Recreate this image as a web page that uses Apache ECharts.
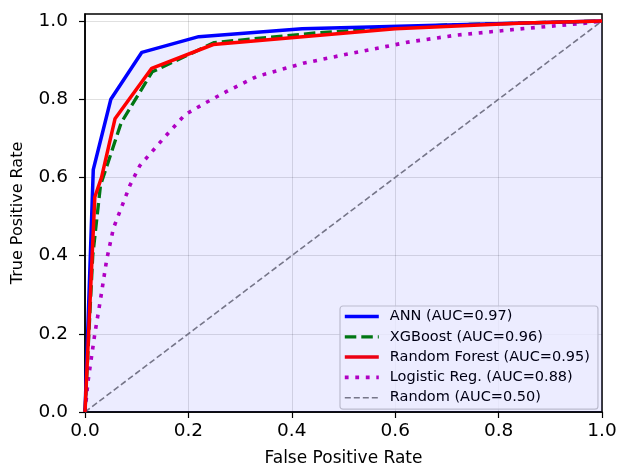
<!DOCTYPE html>
<html>
<head>
<meta charset="utf-8">
<script src="https://cdn.jsdelivr.net/npm/echarts@6/dist/echarts.min.js"></script>
<style>
  html, body { margin: 0; padding: 0; background: #fff; }
  #chart { width: 622px; height: 468px; }
</style>
</head>
<body>
<div id="chart"></div>
<script>
  // ROC points [fpr, tpr]
  var annPts = [[0, 0], [0.016, 0.62], [0.05, 0.80], [0.11, 0.92], [0.22, 0.96], [0.42, 0.98], [0.7, 0.99], [1, 1]];
  var xgbPts = [[0, 0], [0.015, 0.40], [0.03, 0.58], [0.07, 0.74], [0.13, 0.87], [0.25, 0.945], [0.45, 0.97], [0.7, 0.99], [1, 1]];
  var rfPts = [[0, 0], [0.019, 0.55], [0.032, 0.60], [0.058, 0.75], [0.129, 0.879], [0.248, 0.94], [0.6, 0.98], [0.85, 0.995], [1, 1]];
  var lrPts = [[0, 0], [0.006, 0.08], [0.019, 0.20], [0.029, 0.28], [0.042, 0.39], [0.055, 0.47], [0.071, 0.525],
               [0.087, 0.58], [0.106, 0.63], [0.152, 0.70], [0.193, 0.76], [0.232, 0.79], [0.274, 0.82],
               [0.332, 0.858], [0.422, 0.892], [0.513, 0.917], [0.629, 0.947], [0.719, 0.964], [0.835, 0.979],
               [0.964, 0.994], [1, 1]];
  var randPts = [[0, 0], [1, 1]];
  var seriesNames = ['ANN (AUC=0.97)', 'XGBoost (AUC=0.96)', 'Random Forest (AUC=0.95)', 'Logistic Reg. (AUC=0.88)', 'Random (AUC=0.50)'];
  var tickVals = [0, 0.2, 0.4, 0.6, 0.8, 1.0];

  var font = 'DejaVu Sans';
  var myChart = echarts.init(document.getElementById('chart'));

  function axisCommon(name) {
    return {
      type: 'value',
      min: 0,
      interval: 0.2,
      name: name,
      nameLocation: 'middle',
      nameTextStyle: { fontFamily: font, fontSize: 17, color: '#000' },
      axisLine: { show: true, onZero: false, lineStyle: { color: '#000', width: 1.5 } },
      axisTick: { show: true, inside: false, length: 6, customValues: tickVals, lineStyle: { color: '#000', width: 1.2 } },
      axisLabel: {
        customValues: tickVals,
        fontFamily: font, fontSize: 18.5, color: '#000', margin: 10,
        formatter: function (v) { return v.toFixed(1); }
      },
      splitLine: { show: true, lineStyle: { color: 'rgba(0,0,0,0.12)', width: 1 } }
    };
  }

  var xAxis = axisCommon('False Positive Rate');
  xAxis.max = 1;
  xAxis.nameGap = 38;
  var yAxis = axisCommon('True Positive Rate');
  yAxis.max = 1.018;
  yAxis.nameGap = 59;
  yAxis.nameTextStyle.fontSize = 16;
  yAxis.axisLabel.margin = 17;

  // legend entries keep the series line widths
  var legendWidths = [3.5, 3.3, 3.5, 3.6, 1.6];
  var legendData = seriesNames.map(function (n, i) {
    return { name: n, lineStyle: { width: legendWidths[i] } };
  });

  myChart.setOption({
    animation: false,
    backgroundColor: '#fff',
    grid: {
      left: 85, right: 20, top: 14, bottom: 56, outerBoundsMode: 'none',
      show: true, borderColor: '#000', borderWidth: 1.5, backgroundColor: '#fff'
    },
    xAxis: xAxis,
    yAxis: yAxis,
    legend: {
      orient: 'vertical',
      left: 340,
      top: 306,
      itemWidth: 34,
      itemHeight: 14,
      itemGap: 5.3,
      padding: [3, 8, 4, 3],
      borderColor: '#cccccc',
      borderWidth: 1.2,
      borderRadius: 3,
      backgroundColor: 'rgba(255,255,255,0.8)',
      itemStyle: { opacity: 0 },
      textStyle: { fontFamily: font, fontSize: 14.5, color: '#000', padding: [0, 0, 0, 6] },
      data: legendData
    },
    series: [
      {
        name: seriesNames[0], type: 'line', data: annPts, symbol: 'none', z: 5,
        lineStyle: { color: '#0000ff', width: 3.5 }, itemStyle: { color: '#0000ff' },
        areaStyle: { color: 'rgba(0,0,255,0.075)', opacity: 1, origin: 'start' }
      },
      {
        name: seriesNames[1], type: 'line', data: xgbPts, symbol: 'none', z: 4,
        lineStyle: { color: '#008000', width: 3.3, type: [11.5, 5] }, itemStyle: { color: '#008000' }
      },
      {
        name: seriesNames[2], type: 'line', data: rfPts, symbol: 'none', z: 6,
        lineStyle: { color: '#ff0000', width: 3.5 }, itemStyle: { color: '#ff0000' }
      },
      {
        name: seriesNames[3], type: 'line', data: lrPts, symbol: 'none', z: 3,
        lineStyle: { color: '#bf00bf', width: 3.6, type: [3.8, 6.7] }, itemStyle: { color: '#bf00bf' }
      },
      {
        name: seriesNames[4], type: 'line', data: randPts, symbol: 'none', z: 2,
        lineStyle: { color: '#808080', width: 1.6, type: [6, 3] }, itemStyle: { color: '#808080' }
      }
    ]
  });
</script>
</body>
</html>
